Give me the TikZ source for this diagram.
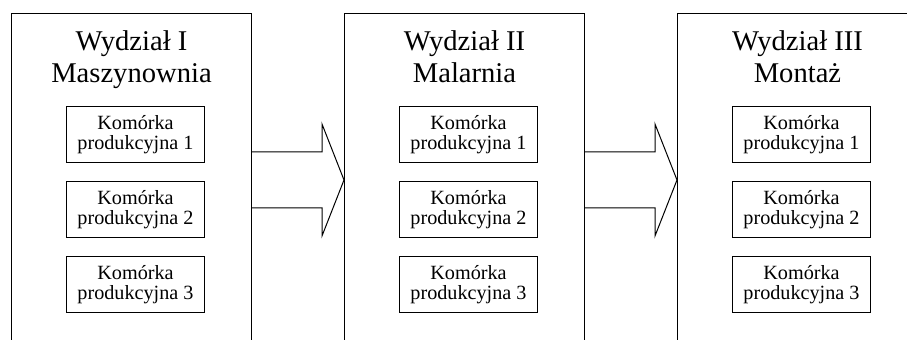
\documentclass[tikz,border=0pt]{standalone}
\usepackage{fontspec}
\setmainfont{Liberation Serif}
\usetikzlibrary{positioning,calc}

\begin{document}
\begin{tikzpicture}[x=0.5pt, y=-0.5pt, line width=0.5pt,
    dept/.style={draw, minimum width=120pt, minimum height=180pt, inner sep=0pt},
    title/.style={align=center, inner sep=0pt, font=\fontsize{14.3}{16}\selectfont},
    cell/.style={draw, align=center, minimum width=69pt, minimum height=28pt, inner sep=0pt,
                 font=\fontsize{10.1}{10}\selectfont},
    node distance=9pt]
  \path[use as bounding box, clip] (0,0) rectangle (907,340);
  % wydzialy
  \node[dept, anchor=north west] (d1) at (11,13) {};
  \node[dept, right=46pt of d1] (d2) {};
  \node[dept, right=46pt of d2] (d3) {};
  \node[title, below=8.7pt of d1.north] (t1) {Wydział I\\Maszynownia};
  \node[title, below=8.7pt of d2.north] (t2) {Wydział II\\Malarnia};
  \node[title, below=8.7pt of d3.north] (t3) {Wydział III\\Montaż};
  % komorki
  \foreach \d in {1,2,3} {
    \node[cell, below=46.5pt of d\d.north, xshift=2pt] (c\d1) {Komórka\\produkcyjna 1};
    \node[cell, below=of c\d1] (c\d2) {Komórka\\produkcyjna 2};
    \node[cell, below=of c\d2] (c\d3) {Komórka\\produkcyjna 3};
  }
  % strzalki
  \foreach \a/\b in {d1/d2, d2/d3} {
    \coordinate (tip) at ($(\b.north west)+(0,167)$);
    \draw ($(\a.north east)+(0,139)$) -| ($(tip)+(-22,-56)$) -- (tip)
      -- ($(tip)+(-22,56)$) |- ($(\a.north east)+(0,195)$);
  }
\end{tikzpicture}
\end{document}
